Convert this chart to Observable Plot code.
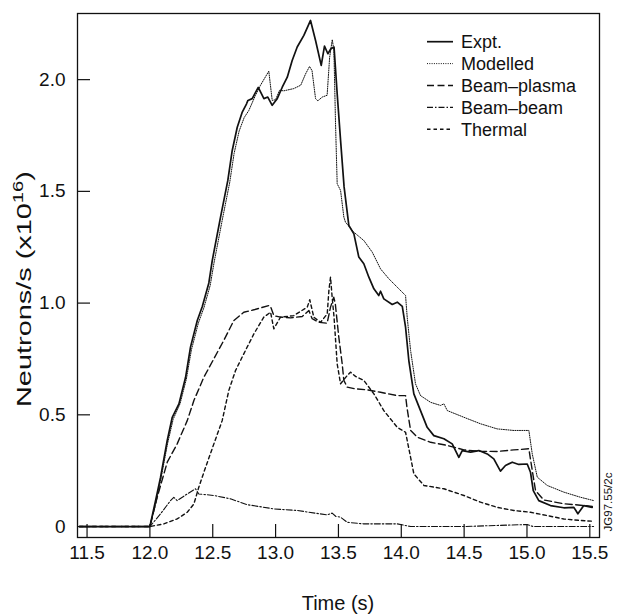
<!DOCTYPE html>
<html><head><meta charset="utf-8">
<script src="https://cdn.jsdelivr.net/npm/d3@7"></script>
<script src="https://cdn.jsdelivr.net/npm/@observablehq/plot@0.6"></script>
<style>
body{margin:0;background:#fff;}
svg{font-family:"Liberation Sans",Arial,Helvetica,sans-serif;}
</style>
</head><body><div id="chart"></div>
<script>
// ---- data: [time (s), neutrons/s x1e16] ----
const expt = [[11.44,0],[12.0,0],[12.045,0.116],[12.085,0.221],[12.138,0.385],[12.178,0.489],[12.231,0.549],[12.284,0.668],[12.323,0.803],[12.377,0.922],[12.417,0.985],[12.469,1.09],[12.496,1.19],[12.562,1.385],[12.62,1.549],[12.655,1.683],[12.695,1.787],[12.735,1.855],[12.769,1.892],[12.78,1.907],[12.814,1.915],[12.862,1.965],[12.907,1.915],[12.938,1.922],[12.973,1.885],[13.013,1.915],[13.053,1.966],[13.093,2.011],[13.132,2.086],[13.172,2.146],[13.225,2.198],[13.278,2.265],[13.318,2.175],[13.363,2.064],[13.389,2.15],[13.416,2.116],[13.44,2.138],[13.465,2.146],[13.49,1.937],[13.517,1.728],[13.545,1.52],[13.583,1.347],[13.623,1.31],[13.662,1.206],[13.702,1.176],[13.742,1.116],[13.782,1.064],[13.821,1.034],[13.835,1.053],[13.861,1.019],[13.928,0.994],[13.968,1.004],[14.008,0.985],[14.034,0.892],[14.06,0.743],[14.1,0.594],[14.153,0.519],[14.206,0.444],[14.259,0.407],[14.339,0.393],[14.405,0.37],[14.458,0.31],[14.485,0.34],[14.551,0.333],[14.617,0.34],[14.684,0.325],[14.736,0.303],[14.789,0.248],[14.829,0.273],[14.883,0.288],[14.935,0.278],[15.002,0.28],[15.028,0.243],[15.05,0.161],[15.094,0.116],[15.187,0.094],[15.293,0.084],[15.373,0.086],[15.405,0.057],[15.452,0.094],[15.519,0.086]];

const modelled = [[11.44,0],[12.0,0],[12.05,0.11],[12.09,0.22],[12.14,0.37],[12.185,0.48],[12.24,0.55],[12.29,0.66],[12.33,0.79],[12.385,0.91],[12.43,0.98],[12.48,1.08],[12.51,1.18],[12.575,1.37],[12.635,1.54],[12.67,1.67],[12.71,1.77],[12.75,1.83],[12.787,1.862],[12.84,1.93],[12.88,1.975],[12.946,2.038],[12.973,1.907],[13.0,1.91],[13.031,1.952],[13.066,1.95],[13.145,1.96],[13.2,1.975],[13.238,2.025],[13.27,2.059],[13.29,2.04],[13.318,1.915],[13.336,1.905],[13.371,1.922],[13.41,1.93],[13.43,2.1],[13.451,2.179],[13.464,2.131],[13.477,1.8],[13.49,1.534],[13.517,1.504],[13.543,1.385],[13.556,1.362],[13.623,1.317],[13.702,1.28],[13.769,1.228],[13.835,1.153],[13.901,1.109],[13.968,1.071],[14.034,1.034],[14.047,0.937],[14.074,0.788],[14.113,0.639],[14.153,0.586],[14.233,0.556],[14.312,0.542],[14.339,0.549],[14.366,0.519],[14.498,0.489],[14.63,0.46],[14.763,0.437],[14.895,0.43],[15.015,0.43],[15.042,0.325],[15.082,0.221],[15.161,0.184],[15.293,0.154],[15.426,0.131],[15.532,0.116]];

const beamPlasma = [[11.44,0],[12.0,0],[12.058,0.131],[12.138,0.288],[12.217,0.37],[12.297,0.474],[12.35,0.564],[12.429,0.668],[12.509,0.751],[12.588,0.833],[12.668,0.922],[12.747,0.959],[12.827,0.97],[12.946,0.989],[12.96,0.985],[12.986,0.944],[13.039,0.937],[13.119,0.934],[13.212,0.94],[13.265,0.967],[13.291,0.93],[13.344,0.914],[13.41,0.91],[13.437,0.982],[13.463,1.026],[13.475,0.997],[13.503,0.847],[13.53,0.728],[13.543,0.654],[13.57,0.624],[13.636,0.616],[13.729,0.612],[13.835,0.601],[13.968,0.586],[14.034,0.586],[14.045,0.534],[14.074,0.43],[14.127,0.4],[14.233,0.377],[14.366,0.363],[14.498,0.343],[14.63,0.337],[14.763,0.336],[14.895,0.343],[15.015,0.348],[15.042,0.251],[15.068,0.161],[15.134,0.119],[15.293,0.102],[15.452,0.094],[15.52,0.09]];

const beamBeam = [[11.44,0],[12.0,0],[12.085,0.057],[12.164,0.116],[12.19,0.131],[12.217,0.116],[12.297,0.146],[12.363,0.169],[12.389,0.146],[12.509,0.139],[12.641,0.124],[12.774,0.098],[12.986,0.079],[13.172,0.072],[13.41,0.052],[13.45,0.06],[13.48,0.045],[13.517,0.042],[13.57,0.019],[13.7,0.012],[13.968,0.012],[14.074,0.0],[14.3,0.0],[14.498,0.0],[14.763,0.005],[15.0,0.009],[15.05,0],[15.3,0],[15.53,0]];

const thermal = [[11.44,0],[12.0,0],[12.111,0.012],[12.217,0.034],[12.297,0.064],[12.35,0.101],[12.389,0.176],[12.443,0.265],[12.509,0.37],[12.575,0.474],[12.628,0.609],[12.681,0.698],[12.747,0.773],[12.827,0.862],[12.906,0.937],[12.96,0.959],[12.986,0.885],[13.039,0.937],[13.145,0.944],[13.252,0.982],[13.272,1.015],[13.304,0.937],[13.358,0.914],[13.411,0.952],[13.424,1.056],[13.437,1.116],[13.45,1.026],[13.465,0.937],[13.49,0.728],[13.517,0.639],[13.57,0.676],[13.596,0.691],[13.636,0.672],[13.702,0.654],[13.782,0.594],[13.861,0.519],[13.968,0.444],[14.034,0.422],[14.074,0.31],[14.1,0.236],[14.18,0.184],[14.339,0.169],[14.498,0.139],[14.63,0.109],[14.763,0.086],[14.895,0.072],[15.028,0.064],[15.161,0.049],[15.293,0.034],[15.426,0.027],[15.52,0.024]];

const seriesNames = ["Expt.", "Modelled", "Beam–plasma", "Beam–beam", "Thermal"];
const seriesData = [expt, modelled, beamPlasma, beamBeam, thermal];
const xTicks = [11.5, 12.0, 12.5, 13.0, 13.5, 14.0, 14.5, 15.0, 15.5];
const yTicks = [0, 0.5, 1.0, 1.5, 2.0];
const xTitle = "Time (s)";
const yTitle = "Neutrons/s (x10";
const yTitleSup = "16";
const stamp = "JG97.55/2c";

// ---- styling / layout ----
const W = 618, H = 616, mL = 77, mR = 19, mT = 13, mB = 79;
const plotW = W - mL - mR, plotH = H - mT - mB;
const xDom = [11.424, 15.577], yDom = [-0.049, 2.296];
const ink = "#111";
const tickLen = 13; // px, ticks point inward
const tickDy = tickLen * (yDom[1] - yDom[0]) / plotH;
const tickDx = tickLen * (xDom[1] - xDom[0]) / plotW;
const styles = [
  {width: 1.7, dash: null},
  {width: 1.0, dash: "1,1.3"},
  {width: 1.4, dash: "7,3.5"},
  {width: 1.1, dash: "6,2,1.5,2"},
  {width: 1.4, dash: "3.5,3"}
];

const lineMarks = seriesData.map((d, i) => Plot.line(d, {
  x: p => p[0], y: p => p[1],
  stroke: ink, strokeWidth: styles[i].width,
  strokeDasharray: styles[i].dash, curve: "linear"
}));

const fmt = v => v === 0 ? "0" : v.toFixed(1);

const chart = Plot.plot({
  width: W, height: H,
  marginLeft: mL, marginRight: mR, marginTop: mT, marginBottom: mB,
  x: {domain: xDom, label: null},
  y: {domain: yDom, label: null},
  style: {fontFamily: '"Liberation Sans", Arial, sans-serif', fontSize: "19px", color: ink, background: "white", overflow: "visible"},
  marks: [
    Plot.axisX({ticks: xTicks, tickSize: 0, tickPadding: 8, tickFormat: fmt, label: null, fontSize: 19}),
    Plot.axisY({ticks: yTicks, tickSize: 0, tickPadding: 12, tickFormat: fmt, label: null, fontSize: 19}),
    Plot.ruleX(xTicks, {x: d => d, y1: yDom[0], y2: yDom[0] + tickDy, stroke: ink, strokeWidth: 1.2}),
    Plot.ruleY(yTicks, {y: d => d, x1: xDom[0], x2: xDom[0] + tickDx, stroke: ink, strokeWidth: 1.2}),
    ...lineMarks,
    Plot.frame({stroke: ink, strokeWidth: 1.3})
  ]
});

document.getElementById("chart").appendChild(chart);
const svg = d3.select(chart);

// axis titles
svg.append("text")
  .attr("x", mL + plotW / 2).attr("y", 610)
  .attr("text-anchor", "middle").attr("font-size", 20).attr("fill", ink)
  .text(xTitle);

const yt = svg.append("text")
  .attr("transform", "translate(31,289) rotate(-90)")
  .attr("text-anchor", "middle").attr("font-size", 20).attr("fill", ink)
  .attr("textLength", 236).attr("lengthAdjust", "spacingAndGlyphs");
yt.append("tspan").text(yTitle);
yt.append("tspan").attr("font-size", 14).attr("dy", -8).text(yTitleSup);
yt.append("tspan").attr("dy", 8).text(")");

// stamp
svg.append("text")
  .attr("transform", "translate(612,502) rotate(-90)")
  .attr("text-anchor", "middle").attr("font-size", 11.5).attr("fill", ink)
  .text(stamp);

// legend
const lg = svg.append("g").attr("text-anchor", "start");
seriesNames.forEach((name, i) => {
  const cy = 41.7 + i * 21.9;
  lg.append("line").attr("x1", 427).attr("x2", 453).attr("y1", cy).attr("y2", cy)
    .attr("stroke", ink).attr("stroke-width", styles[i].width)
    .attr("stroke-dasharray", styles[i].dash);
  lg.append("text").attr("x", 461).attr("y", cy + 6.3)
    .attr("text-anchor", "start")
    .attr("font-size", 18).attr("fill", ink).text(name);
});
</script>
</body></html>
